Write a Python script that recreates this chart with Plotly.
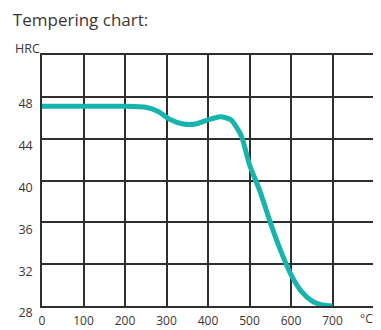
import plotly.graph_objects as go

# tempering temperature (deg C) vs hardness (HRC)
temps = [0, 100, 200, 250, 280, 310, 340, 370, 400, 430, 455, 480, 500, 525, 550, 575, 600, 625, 650, 675, 700]
hrc = [47.1, 47.1, 47.1, 47.0, 46.6, 45.8, 45.4, 45.4, 45.8, 46.1, 45.8, 44.3, 41.5, 39.0, 36.0, 33.3, 31.0, 29.4, 28.5, 28.1, 28.0]

x_ticks = [0, 100, 200, 300, 400, 500, 600, 700, 800]
x_labels = ["0", "100", "200", "300", "400", "500", "600", "700", ""]
y_ticks = [28, 32, 36, 40, 44, 48, 52]
y_labels = ["28", "32", "36", "40", "44", "48", ""]

text_color = "#3d3535"
grid_color = "#2e2e2e"
font = "Open Sans, Lato, sans-serif"

fig = go.Figure()
fig.add_trace(go.Scatter(
    x=temps, y=hrc, mode="lines",
    line=dict(color="#17b3ad", width=5, shape="spline", smoothing=0.6),
    cliponaxis=False, hoverinfo="skip",
))

# page body has an 8px margin, so the figure is a bit smaller than the window
fig.update_layout(
    width=373, height=322,
    margin=dict(l=34, r=7, t=47, b=24),
    paper_bgcolor="white", plot_bgcolor="white",
    showlegend=False,
    font=dict(family=font, color=text_color),
    title=dict(text="Tempering chart:", x=0.013, xanchor="left", y=0.962, yanchor="middle",
               font=dict(size=17, color=text_color, family=font)),
    xaxis=dict(range=[0, 800], tickvals=x_ticks, ticktext=x_labels, automargin=False,
               showgrid=True, gridcolor=grid_color, gridwidth=1.5,
               showline=True, linecolor=grid_color, linewidth=1.5, mirror=True,
               zeroline=False, ticks="", ticklabelstandoff=3,
               tickfont=dict(size=12, color=text_color)),
    yaxis=dict(range=[28, 52], tickvals=y_ticks, ticktext=y_labels, automargin=False,
               showgrid=True, gridcolor=grid_color, gridwidth=1.5,
               showline=True, linecolor=grid_color, linewidth=1.5, mirror=True,
               zeroline=False, ticks="", ticklabelstandoff=5, ticklabelshift=7,
               tickfont=dict(size=12.5, color=text_color)),
    annotations=[
        dict(text="HRC", x=0, xref="paper", y=52, yref="y",
             xanchor="right", yanchor="bottom", xshift=0, yshift=-4,
             showarrow=False, font=dict(size=12.5, color=text_color, family=font)),
        dict(text="°C", x=800, xref="x", y=0, yref="paper",
             xanchor="right", yanchor="top", xshift=0, yshift=-3, borderpad=0,
             showarrow=False, font=dict(size=12, color=text_color, family=font)),
    ],
)

fig.write_html("out.html")
